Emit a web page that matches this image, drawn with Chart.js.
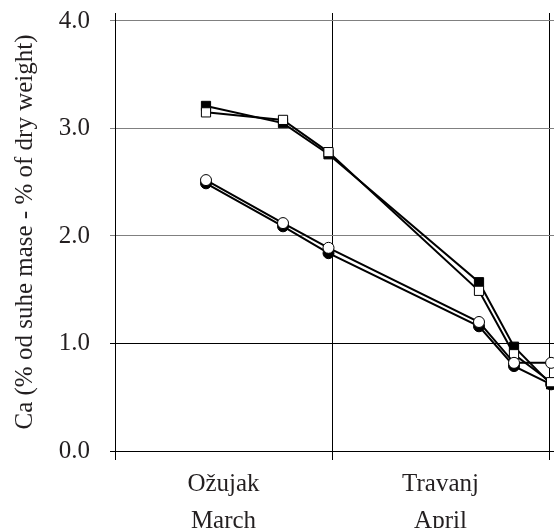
<!DOCTYPE html>
<html>
<head>
<meta charset="utf-8">
<script src="https://cdn.jsdelivr.net/npm/chart.js@4"></script>
<style>
  html, body { margin: 0; padding: 0; background: #fff; }
  #wrap { width: 554px; height: 528px; overflow: hidden; position: relative; }
  #myChart { position: absolute; left: 0; top: -22px; }
</style>
</head>
<body>
<div id="wrap"><canvas id="myChart" width="600" height="550"></canvas></div>
<script>
// sampling days, counted from 1 March
const days = [13, 24, 30.5, 52, 57, 62.3];
const monthEdges = [0, 31, 62];
const monthCentres = [15.5, 46.5];
const monthLabels = [['Ožujak', 'March'], ['Travanj', 'April']];
const yTicks = [0, 1, 2, 3, 4];

const filledSquare = [3.21, 3.05, 2.76, 1.57, 0.97, 0.62];
const openSquare = [3.15, 3.08, 2.78, 1.49, 0.90, 0.64];
const filledCircle = [2.49, 2.09, 1.84, 1.16, 0.79, 0.62];
const openCircle = [2.52, 2.12, 1.89, 1.20, 0.82, 0.82];

const font = { family: 'Liberation Serif', size: 25 };

function series(values, style, filled, order) {
  return {
    data: values.map((v, i) => ({ x: days[i], y: v })),
    borderColor: '#000',
    borderWidth: 2,
    pointStyle: style,
    pointRadius: style === 'rect' ? 6.5 : 5.5,
    pointBorderWidth: 1,
    pointBorderColor: '#000',
    pointBackgroundColor: filled ? '#000' : '#fff',
    order: order,
    tension: 0
  };
}

const data = {
  datasets: [
    series(filledSquare, 'rect', true, 3),
    series(filledCircle, 'circle', true, 2),
    series(openSquare, 'rect', false, 1),
    series(openCircle, 'circle', false, 0)
  ]
};

const config = {
  type: 'line',
  data: data,
  options: {
    responsive: false,
    animation: false,
    layout: { autoPadding: false, padding: { top: 12, right: 9, left: 0, bottom: 0 } },
    plugins: { legend: { display: false }, tooltip: { enabled: false } },
    scales: {
      x: {
        type: 'linear',
        min: 0,
        max: 68,
        afterBuildTicks: s => { s.ticks = monthEdges.map(v => ({ value: v })); },
        afterFit: s => { s.height = 9; },
        grid: { color: '#000', lineWidth: 1, tickLength: 9 },
        border: { color: '#000', width: 1 },
        ticks: { display: false }
      },
      x2: {
        type: 'linear',
        position: 'bottom',
        min: 0,
        max: 68,
        afterBuildTicks: s => { s.ticks = monthCentres.map(v => ({ value: v })); },
        afterFit: s => { s.height = 68; },
        grid: { display: false },
        border: { display: false },
        ticks: {
          color: '#231f20',
          font: { family: 'Liberation Serif', size: 25, lineHeight: 1.48 },
          padding: -2,
          maxRotation: 0,
          autoSkip: false,
          callback: (v, i) => monthLabels[i]
        }
      },
      y: {
        min: 0,
        max: 4 + 8 / 107.75,
        afterBuildTicks: s => { s.ticks = yTicks.map(v => ({ value: v })); },
        afterFit: s => { s.width = 115; },
        grid: {
          color: c => (c.tick && c.tick.value >= 2 ? '#808080' : '#000'),
          lineWidth: 1,
          tickLength: 5
        },
        border: { color: '#000', width: 1 },
        ticks: {
          color: '#231f20',
          font: font,
          padding: 20,
          callback: v => v.toFixed(1)
        },
        title: {
          display: true,
          text: 'Ca (% od suhe mase - % of dry weight)',
          color: '#231f20',
          font: font,
          padding: { top: 10, bottom: 0 }
        }
      }
    }
  }
};

const myChart = new Chart(
  document.getElementById('myChart').getContext('2d'),
  config
);
</script>
</body>
</html>
